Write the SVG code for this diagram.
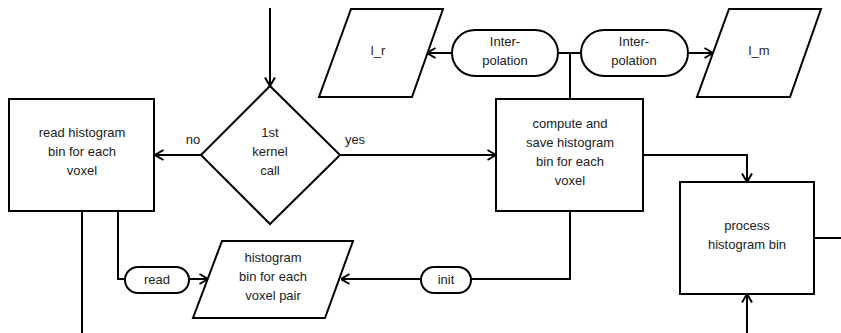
<svg xmlns="http://www.w3.org/2000/svg" width="841" height="333" viewBox="0 0 841 333">
<defs>
<marker id="ah" viewBox="0 0 10 12" refX="9.5" refY="6" markerWidth="10" markerHeight="12" markerUnits="userSpaceOnUse" orient="auto">
<path d="M1,1 L9.5,6 L1,11" fill="none" stroke="#000" stroke-width="2"/>
</marker>
<style>
.s{fill:#fff;stroke:#000;stroke-width:2}
.c{fill:none;stroke:#000;stroke-width:2}
.a{fill:none;stroke:#000;stroke-width:2;marker-end:url(#ah)}
text{font-family:"Liberation Sans",Arial,sans-serif;font-size:13px;fill:#222;text-anchor:middle}
</style>
</defs>
<rect width="841" height="333" fill="#fff"/>
<g id="connectors">
<path class="a" d="M270,8 V86"/>
<path class="a" d="M201,155 H155"/>
<path class="a" d="M340,155 H496"/>
<path class="c" d="M570,99 V53"/>
<path class="c" d="M558,53 H581"/>
<path class="a" d="M452,53 H427"/>
<path class="a" d="M688,53 H713"/>
<path class="a" d="M643,155 H747 V182"/>
<path class="c" d="M814,238 H841"/>
<path class="a" d="M747,333 V294"/>
<path class="c" d="M570,211 V279 H471"/>
<path class="a" d="M421,279 H341"/>
<path class="c" d="M118,211 V279 H125"/>
<path class="a" d="M189,279 H208"/>
<path class="c" d="M82,211 V333"/>
<text x="193" y="144">no</text>
<text x="355" y="144">yes</text>
</g>
<g id="decision">
<polygon class="s" points="270,86 340,155 270,224 201,155"/>
<text x="270" y="137">1st</text>
<text x="270" y="156">kernel</text>
<text x="270" y="175">call</text>
</g>
<g id="read-bin">
<rect class="s" x="9" y="99" width="145" height="112"/>
<text x="82" y="137">read histogram</text>
<text x="82" y="156">bin for each</text>
<text x="82" y="175">voxel</text>
</g>
<g id="compute">
<rect class="s" x="496" y="99" width="147" height="112"/>
<text x="570" y="128">compute and</text>
<text x="570" y="147">save histogram</text>
<text x="570" y="166">bin for each</text>
<text x="570" y="185">voxel</text>
</g>
<g id="interp-left">
<rect class="s" x="452" y="30" width="106" height="46" rx="23"/>
<text x="505" y="46">Inter-</text>
<text x="505" y="65">polation</text>
</g>
<g id="interp-right">
<rect class="s" x="581" y="30" width="107" height="46" rx="23"/>
<text x="634" y="46">Inter-</text>
<text x="634" y="65">polation</text>
</g>
<g id="l_r">
<polygon class="s" points="351,9 443,9 412,97 319,97"/>
<text x="378" y="55">l_r</text>
</g>
<g id="l_m">
<polygon class="s" points="729,9 821,9 790,97 697,97"/>
<text x="759" y="55">l_m</text>
</g>
<g id="process">
<rect class="s" x="680" y="182" width="134" height="112"/>
<text x="747" y="230">process</text>
<text x="747" y="249">histogram bin</text>
</g>
<g id="init">
<rect class="s" x="421" y="267" width="50" height="26" rx="13"/>
<text x="446" y="284">init</text>
</g>
<g id="read">
<rect class="s" x="125" y="267" width="64" height="26" rx="13"/>
<text x="157" y="284">read</text>
</g>
<g id="hist-pair">
<polygon class="s" points="222,241 353,241 325,318 193,318"/>
<text x="273" y="262">histogram</text>
<text x="273" y="281">bin for each</text>
<text x="273" y="300">voxel pair</text>
</g>
</svg>
